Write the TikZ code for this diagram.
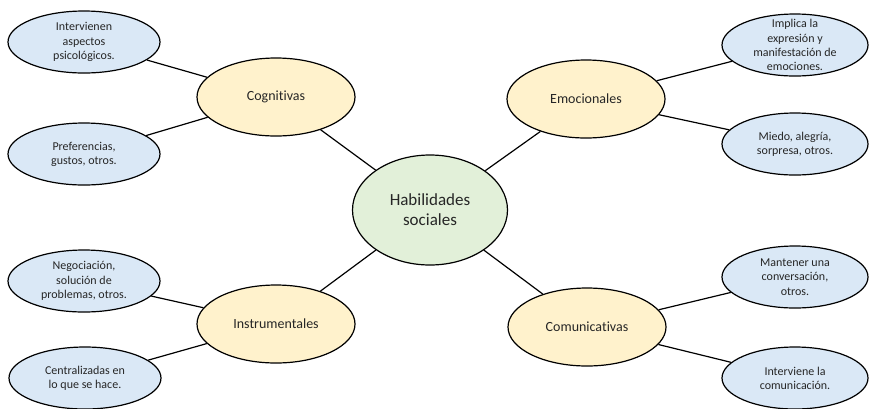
\documentclass[tikz,border=0pt]{standalone}
\usepackage{fontspec}
\setmainfont{Carlito}[Ligatures=NoCommon]
\usetikzlibrary{shapes.geometric}

\definecolor{hubgreen}{RGB}{226,240,217}
\definecolor{catyellow}{RGB}{255,242,204}
\definecolor{leafblue}{RGB}{218,232,246}

\begin{document}
\begin{tikzpicture}[x=1pt,y=-1pt,
        bubble/.style={ellipse,draw=black,line width=1.2pt,inner sep=0pt,align=center,text=black!85},
        hub/.style={bubble,fill=hubgreen,minimum width=155pt,minimum height=110pt,font=\fontsize{17}{20}\selectfont},
        cat/.style={bubble,fill=catyellow,minimum width=158pt,minimum height=78pt,font=\fontsize{14}{17}\selectfont},
        leaf/.style={bubble,fill=leafblue,minimum width=152pt,minimum height=62pt,font=\fontsize{12}{14.2}\selectfont},
        link/.style={line width=1.2pt}]
    \useasboundingbox (0,0) rectangle (869,408);

    % centre
    \node[hub] (hub) at (430,210) {Habilidades\\sociales};

    % the four kinds
    \node[cat] (cog) at (276,97)  {Cognitivas};
    \node[cat] (emo) at (586,99)  {Emocionales};
    \node[cat] (ins) at (276,324) {Instrumentales};
    \node[cat] (com) at (587,327) {Comunicativas};

    % left leaves
    \node[leaf] (cog1) at (84,42)  {Intervienen\\aspectos\\psicológicos.};
    \node[leaf] (cog2) at (84,154) {Preferencias,\\gustos, otros.};
    \node[leaf] (ins1) at (84,281) {Negociación,\\solución de\\problemas, otros.};
    \node[leaf] (ins2) at (85,378) {Centralizadas en\\lo que se hace.};

    % right leaves (a bit narrower)
    \node[leaf,minimum width=146pt,inner ysep=-5pt] (emo1) at (795,45) {Implica la\\expresión y\\manifestación de\\emociones.};
    \node[leaf,minimum width=146pt] (emo2) at (795,144) {Miedo, alegría,\\sorpresa, otros.};
    \node[leaf,minimum width=146pt] (com1) at (795,277) {Mantener una\\conversación,\\otros.};
    \node[leaf,minimum width=146pt] (com2) at (795,378) {Interviene la\\comunicación.};

    \draw[link] (hub) -- (cog);
    \draw[link] (hub) -- (emo);
    \draw[link] (hub) -- (ins);
    \draw[link] (hub) -- (com);
    \draw[link] (cog) -- (cog1);
    \draw[link] (cog) -- (cog2);
    \draw[link] (emo) -- (emo1);
    \draw[link] (emo) -- (emo2);
    \draw[link] (ins) -- (ins1);
    \draw[link] (ins) -- (ins2);
    \draw[link] (com) -- (com1);
    \draw[link] (com) -- (com2);
\end{tikzpicture}
\end{document}
